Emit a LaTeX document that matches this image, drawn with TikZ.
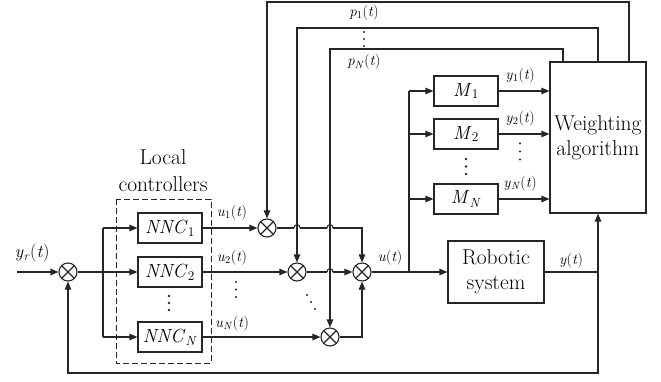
\documentclass[tikz,border=0pt]{standalone}
\usepackage{fontspec}
\usetikzlibrary{arrows.meta}
\newcommand{\vr}[2]{\textit{#1}\textsubscript{#2}}
\begin{document}
\begin{tikzpicture}[x=1pt,y=-1pt,
  line width=1.1pt, draw=black!85,
  arr/.style={-{Triangle[length=8pt,width=6.5pt]}},
  blk/.style={draw, rectangle, inner sep=0pt, minimum width=64pt, minimum height=30pt, font=\fontsize{19}{24}\selectfont},
  bigblk/.style={draw, rectangle, inner sep=0pt, align=center, font=\fontsize{21.5}{25}\selectfont},
  mult/.style={draw, circle, inner sep=0pt, minimum size=18pt,
    path picture={\draw[line width=1.1pt] (path picture bounding box.south west) -- (path picture bounding box.north east)
      (path picture bounding box.north west) -- (path picture bounding box.south east);}},
  lbl/.style={inner sep=0pt, anchor=south, font=\fontsize{15}{17}\selectfont},
  lbln/.style={inner sep=0pt, anchor=north, font=\fontsize{15}{17}\selectfont},
  dotc/.style={fill=black!85, draw=none}
]
\useasboundingbox (0,0) rectangle (661,381);

% nodes
\node[mult] (sin) at (68,272) {};
\node[blk] (n1) at (170,228) {\vr{NNC}{1}};
\node[blk] (n2) at (170,272) {\vr{NNC}{2}};
\node[blk] (nN) at (170,337) {\vr{NNC}{\textit{N}}};
\draw[dash pattern=on 6pt off 3pt, line width=1pt] (116,199) rectangle (211,363);
\node[inner sep=0pt, anchor=south, align=center, font=\fontsize{21.5}{27}\selectfont] (lc) at (163,192) {Local\\controllers};

\node[mult] (m1) at (267,228) {};
\node[mult] (m2) at (297,272) {};
\node[mult] (mN) at (330,337) {};
\node[mult] (sum) at (362,272) {};

\node[blk] (M1) at (466,91) {\vr{M}{1}};
\node[blk] (M2) at (466,134) {\vr{M}{2}};
\node[blk] (MN) at (466,199) {\vr{M}{\textit{N}}};
\node[bigblk, minimum width=96pt, minimum height=151pt] (W) at (598,137.5) {Weighting\\algorithm};
\node[bigblk, minimum width=96pt, minimum height=62pt] (RS) at (496,272) {Robotic\\system};

\coordinate (in) at (17,272);
\coordinate (s1) at (103,272);
\coordinate (bj) at (409,272);
\coordinate (yj) at (598,272);
\coordinate (fb) at (598,373);
\coordinate (t1) at (267,2);
\coordinate (t2) at (297,28);
\coordinate (t3) at (330,49);
\coordinate (h1a) at (294,228); \coordinate (h1b) at (300,228);
\coordinate (h2a) at (327,228); \coordinate (h2b) at (333,228);
\coordinate (h3a) at (327,272); \coordinate (h3b) at (333,272);
\coordinate (c1) at (362,228);

% input and split
\draw[arr] (in) -- (sin.west);
\node[inner sep=0pt, anchor=south, font=\fontsize{18}{22}\selectfont] (yr) at (32,263) {\vr{y}{\textit{r}}(\textit{t})};
\draw[arr] (sin.east) -- (n2.west);
\draw[arr] (s1 |- n1.west) -- (n1.west);
\draw[arr] (s1 |- nN.west) -- (nN.west);
\draw (s1 |- n1.west) -- (s1 |- nN.west);

% controller outputs
\draw[arr] (n1.east) -- (m1.west);
\draw[arr] (n2.east) -- (m2.west);
\draw[arr] (nN.east) -- (mN.west);
\node[lbl] (u1) at (232,221) {\vr{u}{1}(\textit{t})};
\node[lbl] (u2) at (232,266) {\vr{u}{2}(\textit{t})};
\node[lbl] (uN) at (232,332) {\vr{u}{\textit{N}}(\textit{t})};

% to summation (with hop-overs)
\draw (m1.east) -- (h1a);
\draw (h1a) .. controls (294,223.5) and (300,223.5) .. (h1b);
\draw (h1b) -- (h2a);
\draw (h2a) .. controls (327,223.5) and (333,223.5) .. (h2b);
\draw[arr] (h2b) -- (c1) -- (sum.north);
\draw (m2.east) -- (h3a);
\draw (h3a) .. controls (327,267.5) and (333,267.5) .. (h3b);
\draw[arr] (h3b) -- (sum.west);
\draw[arr] (mN.east) -| (sum.south);

% control signal
\draw[arr] (sum.east) -- (RS.west);
\node[lbl] (ul) at (390,266) {\textit{u}(\textit{t})};
\draw (bj) -- (bj |- M1.west);
\draw[arr] (bj |- M1.west) -- (M1.west);
\draw[arr] (bj |- M2.west) -- (M2.west);
\draw[arr] (bj |- MN.west) -- (MN.west);

% model outputs
\draw[arr] (M1.east) -- (M1.east -| W.west);
\draw[arr] (M2.east) -- (M2.east -| W.west);
\draw[arr] (MN.east) -- (MN.east -| W.west);
\node[lbl] (y1) at (520,84) {\vr{y}{1}(\textit{t})};
\node[lbl] (y2) at (520,127) {\vr{y}{2}(\textit{t})};
\node[lbl] (yN) at (520,192) {\vr{y}{\textit{N}}(\textit{t})};

% plant output and feedback
\draw (RS.east) -- (yj);
\node[lbl] (yl) at (571,269) {\textit{y}(\textit{t})};
\draw[arr] (yj) -- (W.south);
\draw[arr] (yj) -- (fb) -| (sin.south);

% weight loops
\draw[arr] ([xshift=31pt]W.north) |- (t1) -- (m1.north);
\draw[arr] (W.north) |- (t2) -- (m2.north);
\draw[arr] ([xshift=-35pt]W.north) |- (t3) -- (mN.north);
\node[lbln] (p1) at (364,5) {\vr{p}{1}(\textit{t})};
\node[lbln] (pN) at (364,54) {\vr{p}{\textit{N}}(\textit{t})};

% dots
\foreach \y in {296,303,310} \fill[dotc] (169,\y) circle (1.3pt);
\foreach \y in {159,166.5,174} \fill[dotc] (466,\y) circle (1.3pt);
\foreach \y in {143.5,151.5,159.5} \fill[dotc] (520,\y) circle (1.2pt);
\foreach \y in {282,289.5,297} \fill[dotc] (236,\y) circle (1.2pt);
\foreach \y in {32,39,46} \fill[dotc] (364,\y) circle (1.2pt);
\foreach \p in {(307,295),(311,302),(315,309)} \fill[dotc] \p circle (1.2pt);
\end{tikzpicture}
\end{document}
